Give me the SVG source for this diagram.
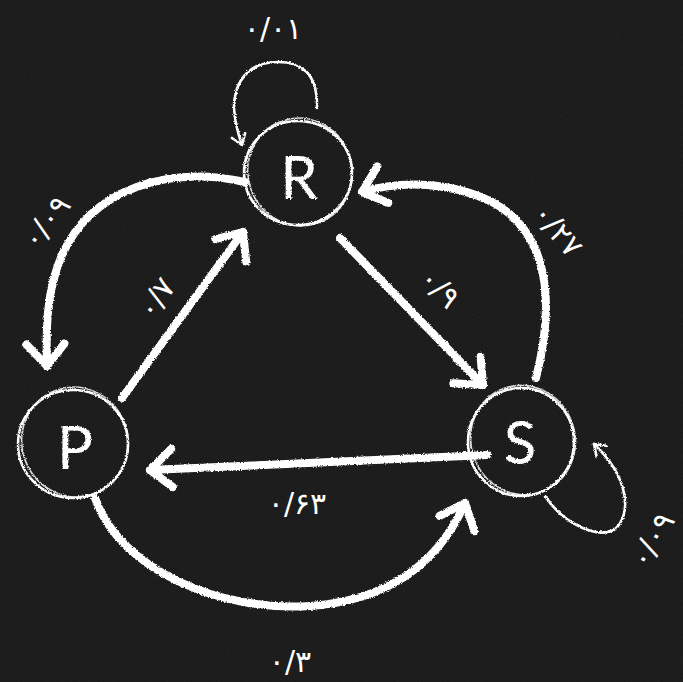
<svg xmlns="http://www.w3.org/2000/svg" width="683" height="682" viewBox="0 0 683 682">
<defs>
<style>
.bg{fill:#171717}
.chalk{fill:none;stroke:#ffffff;stroke-linecap:round;stroke-linejoin:round}
.thick{stroke-width:8}
.thin{stroke-width:2.6}
.ring{stroke-width:2.6}
.ring2{stroke-width:1.6;opacity:0.85}
.letter{font-family:Lato,"Noto Sans",sans-serif;font-weight:400;font-size:60px;fill:#ffffff;text-anchor:middle;dominant-baseline:central}
.lbl{font-family:"DejaVu Sans","Noto Sans",sans-serif;font-size:30px;fill:#ffffff;text-anchor:middle;dominant-baseline:central;direction:ltr}
</style>
<filter id="noise" x="0" y="0" width="100%" height="100%">
<feTurbulence type="fractalNoise" baseFrequency="0.9" numOctaves="3" seed="4"/>
<feColorMatrix type="matrix" values="0 0 0 0 1  0 0 0 0 1  0 0 0 0 1  0 0 0 0.05 0"/>
</filter>
<filter id="rough" x="-10%" y="-10%" width="120%" height="120%">
<feTurbulence type="fractalNoise" baseFrequency="0.7" numOctaves="2" seed="2" result="t"/>
<feDisplacementMap in="SourceGraphic" in2="t" scale="3" xChannelSelector="R" yChannelSelector="G"/>
</filter>
<marker id="head" markerUnits="userSpaceOnUse" markerWidth="60" markerHeight="60" refX="30" refY="30" orient="auto" overflow="visible">
<path d="M8,12 L30,30 L8,50" fill="none" stroke="#ffffff" stroke-width="8" stroke-linecap="round" stroke-linejoin="round"/>
</marker>
<marker id="headsm" markerUnits="userSpaceOnUse" markerWidth="30" markerHeight="30" refX="15" refY="15" orient="auto" overflow="visible">
<path d="M5,8 L15,15 L5,22" fill="none" stroke="#ffffff" stroke-width="2.6" stroke-linecap="round" stroke-linejoin="round"/>
</marker>
</defs>
<rect class="bg" x="0" y="0" width="683" height="682"/>
<rect x="0" y="0" width="683" height="682" filter="url(#noise)"/>

<g id="connectors" filter="url(#rough)">
<path id="e-R-P" class="chalk thick" d="M245,182 C170,165 92,188 62,255 C46,292 46,330 47,366" marker-end="url(#head)"/>
<path id="e-P-R" class="chalk thick" d="M122,398 L243,232" marker-end="url(#head)"/>
<path id="e-R-S" class="chalk thick" d="M340,238 L483,385" marker-end="url(#head)"/>
<path id="e-S-R" class="chalk thick" d="M536,378 C556,300 548,232 492,202 C452,182 402,180 362,192" marker-end="url(#head)"/>
<path id="e-S-P" class="chalk thick" d="M487,455 L150,470" marker-end="url(#head)"/>
<path id="e-P-S" class="chalk thick" d="M95,498 C120,570 220,612 310,606 C392,600 440,560 465,503" marker-end="url(#head)"/>
<path id="e-R-R" class="chalk thin" d="M317,108 C318,72 300,62 278,62 C250,62 234,80 234,108 C235,124 238,134 242,145" marker-end="url(#headsm)"/>
<path id="e-S-S" class="chalk thin" d="M545,496 C565,526 598,538 614,530 C632,516 630,478 594,444" marker-end="url(#headsm)"/>
</g>

<g id="labels">
<text class="lbl" x="273" y="28">۰/۰۱</text>
<text class="lbl" transform="translate(46,222) rotate(-52)">۰/۰۹</text>
<text class="lbl" transform="translate(156,298) rotate(-55)">۰/۷</text>
<text class="lbl" transform="translate(440,288) rotate(45)">۰/۹</text>
<text class="lbl" transform="translate(558,230) rotate(50)">۰/۲۷</text>
<text class="lbl" x="297" y="503">۰/۶۳</text>
<text class="lbl" transform="translate(652,540) rotate(-60)">۰/۰۹</text>
<text class="lbl" x="290" y="661">۰/۳</text>
</g>

<g id="node-R" filter="url(#rough)">
<ellipse class="chalk ring" cx="298" cy="173" rx="54" ry="52"/>
<ellipse class="chalk ring2" cx="300" cy="172" rx="52" ry="54" transform="rotate(-20 300 172)"/>
<text class="letter" x="299" y="176">R</text>
</g>
<g id="node-P" filter="url(#rough)">
<ellipse class="chalk ring" cx="73" cy="444" rx="55" ry="54"/>
<ellipse class="chalk ring2" cx="75" cy="442" rx="53" ry="55" transform="rotate(-20 75 442)"/>
<text class="letter" x="75" y="446">P</text>
</g>
<g id="node-S" filter="url(#rough)">
<ellipse class="chalk ring" cx="521" cy="442" rx="53" ry="54"/>
<ellipse class="chalk ring2" cx="523" cy="440" rx="52" ry="55" transform="rotate(-20 523 440)"/>
<text class="letter" x="520" y="441">S</text>
</g>
</svg>
